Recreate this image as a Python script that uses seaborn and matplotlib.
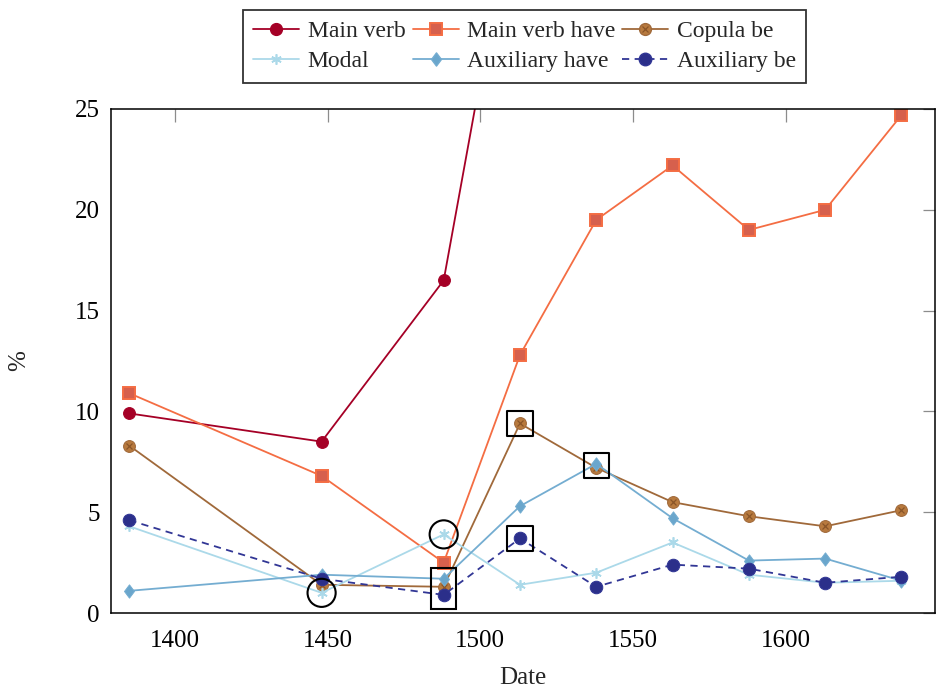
import matplotlib
matplotlib.use("Agg")
import matplotlib.pyplot as plt
import seaborn as sns
import numpy as np
from matplotlib.lines import Line2D
from matplotlib.legend_handler import HandlerTuple
from matplotlib.patches import Rectangle
from matplotlib.path import Path

# ---- data ----
years = [1385, 1448, 1488, 1513, 1538, 1563, 1588, 1613, 1638]
main_verb_years = [1385, 1448, 1488, 1513]
main_verb = [9.9, 8.5, 16.5, 37.3]
main_verb_have = [10.9, 6.8, 2.5, 12.8, 19.5, 22.2, 19.0, 20.0, 24.7]
copula_be = [8.3, 1.4, 1.3, 9.4, 7.2, 5.5, 4.8, 4.3, 5.1]
modal = [4.3, 1.0, 3.9, 1.4, 2.0, 3.5, 1.9, 1.5, 1.6]
auxiliary_have = [1.1, 1.9, 1.7, 5.3, 7.4, 4.7, 2.6, 2.7, 1.6]
auxiliary_be = [4.6, 1.7, 0.9, 3.7, 1.3, 2.4, 2.2, 1.5, 1.8]

circle_x = [1448, 1488]
circle_y = [1.0, 3.9]
square_x = [1513, 1513, 1538]
square_y = [9.4, 3.7, 7.3]
tall_box = (1484.0, 0.2, 7.9, 2.03)  # x, y, width, height (data units)

xticks = [1400, 1450, 1500, 1550, 1600]
yticks = [0, 5, 10, 15, 20, 25]

sns.set_theme(style="white")
plt.rcParams['font.family'] = ['Liberation Serif', 'DejaVu Serif']

fig = plt.figure(figsize=(9.36, 6.89), dpi=100)
ax = fig.add_axes([0.1186, 0.1103, 0.8804, 0.7315])

c_mv = '#a50026'
c_mvh = '#f46d43'
c_cop = '#a0693a'
c_mod = '#abd9e9'
c_ah = '#74add1'
c_ab = '#313695'

diamond = Path([(0, 1), (0.75, 0), (0, -1), (-0.75, 0), (0, 1)],
               [Path.MOVETO, Path.LINETO, Path.LINETO, Path.LINETO, Path.CLOSEPOLY])

lw = 1.3
st = {
    'mv': dict(color=c_mv, marker='o', markersize=8.5, markerfacecolor=c_mv, markeredgecolor=c_mv),
    'mvh': dict(color=c_mvh, marker='s', markersize=8.0, markerfacecolor='#d6604d',
                markeredgecolor=c_mvh, markeredgewidth=1.4),
    'cop': dict(color=c_cop, marker='o', markersize=8.5, markerfacecolor='#b87a3e',
                markeredgecolor='#a0693a'),
    'mod': dict(color=c_mod, marker=(6, 2, 0), markersize=7.5, markeredgecolor=c_mod,
                markeredgewidth=1.2),
    'ah': dict(color=c_ah, marker=diamond, markersize=9.5, markerfacecolor='#6aa6cc',
               markeredgecolor=c_ah),
    'ab': dict(color=c_ab, marker='o', markersize=9, markerfacecolor='#2b2f8a',
               markeredgecolor=c_ab),
}

sns.lineplot(x=main_verb_years, y=main_verb, ax=ax, lw=lw, **st['mv'])
sns.lineplot(x=years, y=main_verb_have, ax=ax, lw=lw, **st['mvh'])
sns.lineplot(x=years, y=copula_be, ax=ax, lw=lw, **st['cop'])
ax.plot(years, copula_be, ls='none', marker='x', markersize=4.5, color='#8a5528', mew=0.9)
sns.lineplot(x=years, y=modal, ax=ax, lw=lw, **st['mod'])
sns.lineplot(x=years, y=auxiliary_have, ax=ax, lw=lw, **st['ah'])
sns.lineplot(x=years, y=auxiliary_be, ax=ax, lw=lw, linestyle=(0, (4, 3)), **st['ab'])

# annotations
ax.scatter(circle_x, circle_y, s=410, facecolors='none', edgecolors='black', linewidths=1.5, zorder=5)
ax.scatter(square_x, square_y, s=330, marker='s', facecolors='none', edgecolors='black',
           linewidths=1.5, zorder=5)
ax.add_patch(Rectangle(tall_box[:2], tall_box[2], tall_box[3], fill=False,
                       edgecolor='black', lw=1.5, zorder=5))

ax.set_xlim(1379, 1649)
ax.set_ylim(0, 25)
ax.set_xticks(xticks)
ax.set_yticks(yticks)
ax.tick_params(axis='both', direction='in', length=9, width=0.9, color='#8c8c8c',
               labelsize=18, top=True, right=True, labelcolor='black')
ax.tick_params(axis='x', pad=12)
ax.tick_params(axis='y', pad=8)
for s in ax.spines.values():
    s.set_color('black')
    s.set_linewidth(1.1)
ax.set_xlabel('Date', fontsize=18, labelpad=11)
ax.set_ylabel('%', fontsize=18, labelpad=32)


def h(key, ls='-'):
    return Line2D([], [], lw=lw, ls=ls, **st[key])


hx = Line2D([], [], ls='none', marker='x', markersize=4.5, color='#8a5528', mew=0.9)
handles = [
    h('mv'), h('mod'),
    h('mvh'), h('ah'),
    (h('cop'), hx), h('ab', ls=(0, (4, 3))),
]
labels = ['Main verb', 'Modal', 'Main verb have', 'Auxiliary have', 'Copula be', 'Auxiliary be']
leg = fig.legend(handles, labels, loc='upper center', bbox_to_anchor=(0.5604, 0.986), ncol=3,
                 fontsize=17, frameon=True, fancybox=False, edgecolor='black',
                 handlelength=1.95, handletextpad=0.35, columnspacing=0.3, labelspacing=0.38,
                 borderpad=0.45, borderaxespad=0.0,
                 handler_map={tuple: HandlerTuple(ndivide=1)})
leg.get_frame().set_linewidth(1.3)

fig.savefig('out.png', dpi=100)
